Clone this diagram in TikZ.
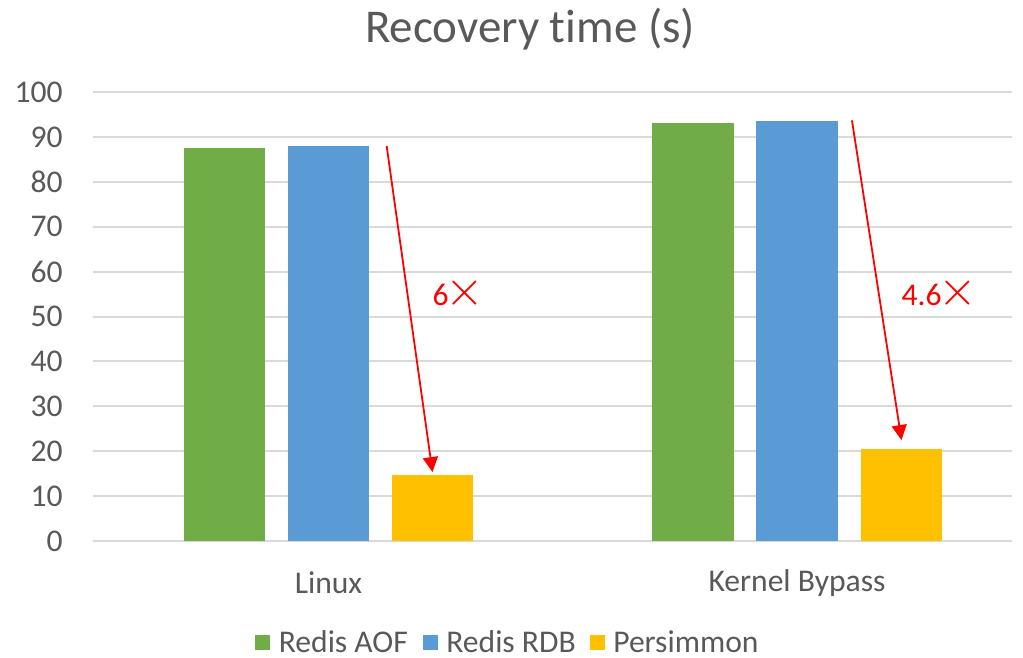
\documentclass[tikz,border=0pt]{standalone}
\usepackage{fontspec}
\setmainfont[Ligatures=NoCommon]{Carlito}
\usetikzlibrary{arrows.meta}
\definecolor{aof}{HTML}{70AD47}
\definecolor{rdb}{HTML}{5B9BD5}
\definecolor{persim}{HTML}{FFC000}
\definecolor{gridgray}{HTML}{D9D9D9}
\definecolor{txtgray}{HTML}{595959}
\newcommand{\bigtimes}{\kern-1.5pt{\fontsize{23}{23}\selectfont$\times$}}

\begin{document}
\begin{tikzpicture}[x=0.5pt,y=-0.5pt,
    lbl/.style={text=txtgray,inner sep=0pt,font=\fontsize{15.8}{18}\selectfont},
    gain/.style={text=red,inner sep=0pt,font=\fontsize{15.8}{18}\selectfont},
    bar/.style={draw=none,inner sep=0pt,minimum width=40.75pt,anchor=south},
    legsq/.style={draw=none,inner sep=0pt,minimum size=7.5pt},
    drop/.style={red,line width=0.9pt,-{Triangle[width=7.5pt,length=7.5pt]}}]
    \useasboundingbox (0,0) rectangle (1023,658);
    \node[text=txtgray,font=\fontsize{23.5}{27}\selectfont] (title) at (530,29) {Recovery time (s)};
    % grid and y axis
    \foreach \v in {0,10,...,100} {
        \draw[gridgray,line width=1pt] (93,541-4.49*\v) -- (1012,541-4.49*\v);
        \node[lbl,anchor=east] at (63,541-4.49*\v) {\v};
    }
    % bars
    \foreach \nm/\x/\v/\c in {linaof/224.5/87.4/aof, linrdb/328.5/87.8/rdb, linper/432.5/14.5/persim,
                              kbaof/693/93.1/aof, kbrdb/797/93.5/rdb, kbper/901.5/20.3/persim} {
        \node[bar,fill=\c,minimum height=\v*2.245pt] (\nm) at (\x,541) {};
    }
    \node[lbl] (linux) at (328.5,583) {Linux};
    \node[lbl] (kbypass) at (797,583) {Kernel Bypass};
    % speedup arrows
    \draw[drop] ([xshift=8.5pt]linrdb.north east) -- ([yshift=1.5pt]linper.north);
    \draw[drop] ([xshift=6.9pt]kbrdb.north east) -- ([yshift=4.5pt]kbper.north);
    \node[gain,anchor=base] (gainlin) at (458.5,305) {6\bigtimes};
    \node[gain,anchor=base] (gainkb) at (939.5,305) {4.6\bigtimes};
    % legend
    \node[legsq,fill=aof] (keyaof) at (262.5,642) {};
    \node[lbl,anchor=west,xshift=4pt] at (keyaof.east) {Redis AOF};
    \node[legsq,fill=rdb] (keyrdb) at (430,642) {};
    \node[lbl,anchor=west,xshift=4pt] at (keyrdb.east) {Redis RDB};
    \node[legsq,fill=persim] (keyper) at (597,642) {};
    \node[lbl,anchor=west,xshift=4pt] at (keyper.east) {Persimmon};
\end{tikzpicture}
\end{document}
